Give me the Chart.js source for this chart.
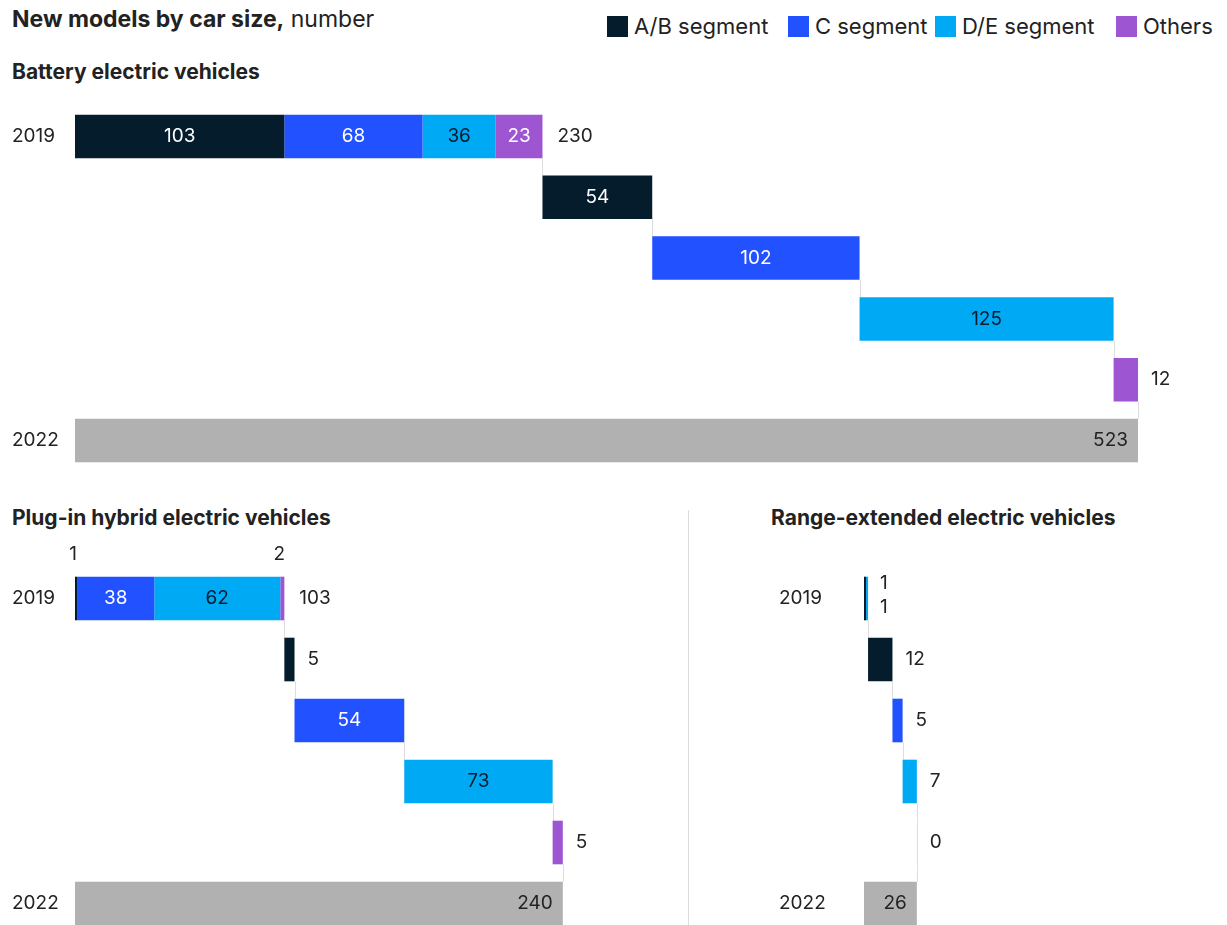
<!DOCTYPE html>
<html>
<head>
    <title>New models by car size</title>
    <script src="https://cdn.jsdelivr.net/npm/chart.js"></script>
    <style>
        body {
            margin: 0;
            width: 1227px;
            height: 925px;
            overflow: hidden;
            position: relative;
            background: #fff;
            color: #222;
            font-family: Inter, "Liberation Sans", sans-serif;
        }
        .title {
            position: absolute;
            left: 12px;
            top: 5px;
            font-size: 23px;
        }
        .title b { font-weight: 700; }
        .legend-item {
            position: absolute;
            top: 13px;
            font-size: 22px;
            line-height: 26px;
            white-space: nowrap;
        }
        .swatch {
            display: inline-block;
            width: 21px;
            height: 21px;
            margin-right: 6px;
            vertical-align: -3px;
        }
        .sub {
            position: absolute;
            left: 12px;
            font-size: 21px;
            font-weight: 700;
        }
        .panel { position: absolute; }
        .divider {
            position: absolute;
            left: 688px;
            top: 510px;
            width: 1px;
            height: 415px;
            background: #dcdcdc;
        }
    </style>
</head>
<body>
    <div class="title"><b>New models by car size,</b> number</div>
    <div class="legend-item" style="left:607px"><span class="swatch" style="background:#051c2c"></span>A/B segment</div>
    <div class="legend-item" style="left:788px"><span class="swatch" style="background:#2251ff"></span>C segment</div>
    <div class="legend-item" style="left:935px"><span class="swatch" style="background:#00a9f4"></span>D/E segment</div>
    <div class="legend-item" style="left:1116px"><span class="swatch" style="background:#9d55d2"></span>Others</div>

    <div class="sub" style="top:59px">Battery electric vehicles</div>
    <div class="panel" style="left:0; top:105.6px"><canvas id="bev" width="1227" height="365"></canvas></div>

    <div class="sub" style="top:505px">Plug-in hybrid electric vehicles</div>
    <div class="panel" style="left:0; top:535.5px"><canvas id="phev" width="680" height="398"></canvas></div>

    <div class="divider"></div>
    <div class="sub" style="top:505px; left:771px">Range-extended electric vehicles</div>
    <div class="panel" style="left:700px; top:535.5px"><canvas id="reev" width="527" height="398"></canvas></div>

    <script>
        // 行标签
        const rows = ['2019', '', '', '', '', '2022'];
        const segments = ['A/B segment', 'C segment', 'D/E segment', 'Others'];
        const segColors = ['#051c2c', '#2251ff', '#00a9f4', '#9d55d2'];
        const segTextColors = ['#ffffff', '#ffffff', '#051c2c', '#ffffff'];

        // Battery electric vehicles
        const bev2019 = [103, 68, 36, 23];
        const bevAdded = [54, 102, 125, 12];
        const bevTotals = [230, 523];

        // Plug-in hybrid electric vehicles
        const phev2019 = [1, 38, 62, 2];
        const phevAdded = [5, 54, 73, 5];
        const phevTotals = [103, 240];

        // Range-extended electric vehicles
        const reev2019 = [1, 0, 1, 0];
        const reevAdded = [12, 5, 7, 0];
        const reevTotals = [2, 26];

        const unitPx = 2.0325;  // 三个图共用同一比例
        const fontFamily = 'Inter, "Liberation Sans", sans-serif';

        function buildDatasets(start, added, totals) {
            const datasets = [];
            let acc = 0;
            let step = totals[0];
            segments.forEach((name, s) => {
                const data = rows.map(() => null);
                data[0] = [acc, acc + start[s]];
                acc += start[s];
                data[s + 1] = [step, step + added[s]];
                step += added[s];
                datasets.push({
                    label: name,
                    data: data,
                    backgroundColor: segColors[s],
                    labelColor: segTextColors[s],
                    grouped: false
                });
            });
            const totalData = rows.map(() => null);
            totalData[5] = [0, totals[1]];
            datasets.push({
                label: 'Total',
                data: totalData,
                backgroundColor: '#b1b1b1',
                labelColor: '#222',
                isTotal: true,
                grouped: false
            });
            return datasets;
        }

        // 连接线 + 数值标签
        const waterfallPlugin = {
            id: 'waterfall',
            beforeDatasetsDraw(chart) {
                const ctx = chart.ctx;
                const x = chart.scales.x, y = chart.scales.y;
                const half = chart.getDatasetMeta(0).data[0].height / 2;
                const ends = rows.map((r, i) => {
                    let e = null;
                    chart.data.datasets.forEach(ds => {
                        const d = ds.data[i];
                        if (d && (e === null || d[1] > e)) e = d[1];
                    });
                    return e;
                });
                const widths = rows.map((r, i) => {
                    let w = 0;
                    chart.data.datasets.forEach(ds => {
                        const d = ds.data[i];
                        if (d) w = Math.max(w, d[1] - d[0]);
                    });
                    return w;
                });
                ctx.save();
                ctx.strokeStyle = '#dedede';
                ctx.lineWidth = 1;
                for (let i = 0; i < rows.length - 1; i++) {
                    const px = Math.round(x.getPixelForValue(ends[i])) + 0.5;
                    ctx.beginPath();
                    ctx.moveTo(px, y.getPixelForValue(i) + half);
                    ctx.lineTo(px, y.getPixelForValue(i + 1) - half);
                    if (widths[i + 1] === 0) {
                        ctx.lineTo(px, y.getPixelForValue(i + 1) + half);
                    }
                    ctx.stroke();
                }
                ctx.restore();
            },
            afterDatasetsDraw(chart, args, opts) {
                const ctx = chart.ctx;
                const x = chart.scales.x;
                ctx.save();
                ctx.font = '19px ' + fontFamily;
                ctx.textBaseline = 'middle';
                const firstSmall = [];
                let firstEnd = 0, firstY = 0, firstTop = 0;
                chart.data.datasets.forEach((ds, di) => {
                    const meta = chart.getDatasetMeta(di);
                    meta.data.forEach((bar, i) => {
                        const d = ds.data[i];
                        if (!d) return;
                        const v = d[1] - d[0];
                        const x0 = x.getPixelForValue(d[0]);
                        const x1 = x.getPixelForValue(d[1]);
                        const w = x1 - x0;
                        if (i === 0) {
                            firstEnd = Math.max(firstEnd, x1);
                            firstY = bar.y;
                            firstTop = bar.y - bar.height / 2;
                        }
                        if (ds.isTotal) {
                            ctx.fillStyle = ds.labelColor;
                            ctx.textAlign = 'right';
                            ctx.fillText(v, x1 - 10, bar.y);
                        } else if (w >= 40) {
                            ctx.fillStyle = ds.labelColor;
                            ctx.textAlign = 'center';
                            ctx.fillText(v, (x0 + x1) / 2, bar.y);
                        } else if (i === 0) {
                            if (v === 0) return;
                            firstSmall.push({ v: v, cx: (x0 + x1) / 2 });
                        } else {
                            ctx.fillStyle = '#222';
                            ctx.textAlign = 'left';
                            ctx.fillText(v, x1 + 13, bar.y);
                        }
                    });
                });
                ctx.fillStyle = '#222';
                if (opts.smallFirst === 'above') {
                    ctx.textAlign = 'center';
                    firstSmall.forEach(s => ctx.fillText(s.v, s.cx - 3, firstTop - 22));
                } else if (opts.smallFirst === 'stack') {
                    ctx.textAlign = 'left';
                    firstSmall.forEach((s, k) => ctx.fillText(s.v, firstEnd + 12, firstY + (k === 0 ? -15 : 9)));
                }
                if (opts.firstTotal !== null) {
                    ctx.textAlign = 'left';
                    ctx.fillText(opts.firstTotal, firstEnd + 15, firstY);
                }
                ctx.restore();
            }
        };

        function makeChart(id, start, added, totals, leftPad, axisWidth, topPad, smallFirst, showFirstTotal) {
            const canvas = document.getElementById(id);
            const areaWidth = canvas.width - leftPad - axisWidth;
            return new Chart(canvas, {
                type: 'bar',
                data: {
                    labels: rows,
                    datasets: buildDatasets(start, added, totals)
                },
                options: {
                    indexAxis: 'y',
                    responsive: false,
                    animation: false,
                    categoryPercentage: 1,
                    barPercentage: 0.715,
                    layout: { padding: { top: topPad, left: leftPad, right: 0, bottom: 0 } },
                    scales: {
                        x: {
                            display: false,
                            min: 0,
                            max: areaWidth / unitPx
                        },
                        y: {
                            grid: { display: false, drawTicks: false },
                            border: { display: false },
                            ticks: {
                                color: '#222',
                                padding: 0,
                                crossAlign: 'far',
                                font: { size: 19, family: fontFamily }
                            },
                            afterFit(scale) {
                                scale.width = axisWidth;
                                scale.paddingTop = 0;
                                scale.paddingBottom = 0;
                            }
                        }
                    },
                    plugins: {
                        legend: { display: false },
                        tooltip: { enabled: false },
                        waterfall: {
                            smallFirst: smallFirst,
                            firstTotal: showFirstTotal ? totals[0] : null
                        }
                    }
                },
                plugins: [waterfallPlugin]
            });
        }

        makeChart('bev', bev2019, bevAdded, bevTotals, 12, 63, 0, 'above', true);
        makeChart('phev', phev2019, phevAdded, phevTotals, 12, 63, 32, 'above', true);
        makeChart('reev', reev2019, reevAdded, reevTotals, 79, 85, 32, 'stack', false);
    </script>
</body>
</html>
